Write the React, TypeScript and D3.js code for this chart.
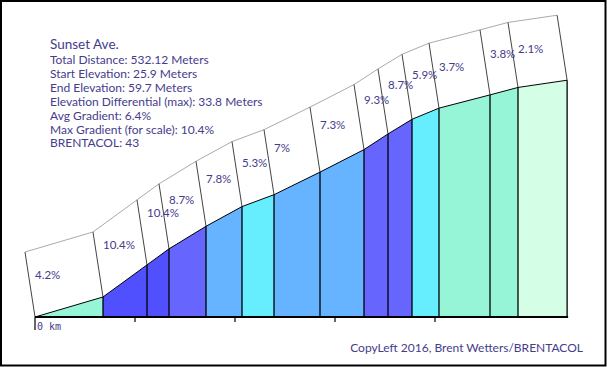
import * as d3 from "d3";

// segment lengths (meters) and gradients (%)
const segLengths = [68, 44, 22, 37, 36, 32, 46, 44, 24, 24, 27, 51, 28, 49.12];
const grades = [4.2, 10.4, 10.4, 8.7, 7.8, 5.3, 7, 7.3, 9.3, 8.7, 5.9, 3.7, 3.8, 2.1];
const distTicks = [0, 100, 200, 300, 400];

const infoLines = [
  "Total Distance: 532.12 Meters",
  "Start Elevation: 25.9 Meters",
  "End Elevation: 59.7 Meters",
  "Elevation Differential (max): 33.8 Meters",
  "Avg Gradient: 6.4%",
  "Max Gradient (for scale): 10.4%",
  "BRENTACOL: 43",
];
const title = "Sunset Ave.";
const credit = "CopyLeft 2016, Brent Wetters/BRENTACOL";

const W = 607;
const H = 367;
const base = 317;
const textColor = "#453c8c";
const font = "Lato, 'Open Sans', sans-serif";

const App = () => {
  // cumulative distance / elevation gain at every segment boundary
  const dist = [0];
  const elev = [0];
  segLengths.forEach((l, i) => {
    dist.push(dist[i] + l);
    elev.push(elev[i] + (l * grades[i]) / 100);
  });

  const x = d3.scaleLinear().domain([0, 532.12]).range([35, 567.12]);
  const y = d3.scaleLinear().domain([0, 33.8]).range([base, 80]);
  const color = d3
    .scaleThreshold<number, string>()
    .domain([3, 5, 6, 8, 10])
    .range(["#d4ffe6", "#96f5d7", "#66eeff", "#66b3ff", "#6666ff", "#5050ff"]);

  const pts: [number, number][] = dist.map((d, i) => [x(d), y(elev[i])]);
  // tilted "cards" above the profile
  const off = [-10, -65];
  const tops: [number, number][] = pts.map((p) => [p[0] + off[0], p[1] + off[1]]);
  const line = d3.line();

  return (
    <div>
      <style>{"body{margin:0}"}</style>
      <svg width={W} height={H} style={{ display: "block" }}>
        <rect x={1} y={1} width={W - 2.5} height={H - 2.5} fill="white" stroke="black" strokeWidth={2} />

        <path d={line(tops) || ""} fill="none" stroke="#aaa" strokeWidth={1} />
        {pts.map((p, i) => (
          <line key={"c" + i} x1={p[0]} y1={p[1]} x2={tops[i][0]} y2={tops[i][1]} stroke="#444" strokeWidth={1} />
        ))}

        {grades.map((g, i) => (
          <path
            key={"s" + i}
            d={line([[pts[i][0], base], pts[i], pts[i + 1], [pts[i + 1][0], base]]) + "Z"}
            fill={color(g)}
            stroke="none"
          />
        ))}
        {pts.map((p, i) => (
          <line key={"v" + i} x1={p[0]} y1={base} x2={p[0]} y2={p[1]} stroke="black" strokeWidth={i === 0 ? 0 : 1.3} />
        ))}
        <path d={line(pts) || ""} fill="none" stroke="black" strokeWidth={1} />

        {grades.map((g, i) => (
          <text
            key={"l" + i}
            x={pts[i][0]}
            y={pts[i][1] - 31 - 1.6 * g}
            fill={textColor}
            fontFamily={font}
            fontSize={11.5}
          >
            {g + "%"}
          </text>
        ))}

        <line x1={x(0)} x2={x(532.12) + 1} y1={base} y2={base} stroke="black" strokeWidth={2} />
        {distTicks.map((t, i) => (
          <line key={"t" + i} x1={x(t)} x2={x(t)} y1={base} y2={i === 0 ? base + 13 : base + 5} stroke="black" strokeWidth={1.2} />
        ))}
        <text x={x(0) + 2} y={330} fill={textColor} fontFamily="'DejaVu Sans Mono', monospace" fontSize={10}>
          0 km
        </text>

        <text x={50} y={49} fill={textColor} fontFamily={font} fontSize={13.5}>
          {title}
        </text>
        {infoLines.map((s, i) => (
          <text key={"i" + i} x={50} y={64 + i * 13.9} fill={textColor} fontFamily={font} fontSize={12}>
            {s}
          </text>
        ))}

        <text x={583} y={352} textAnchor="end" fill={textColor} fontFamily={font} fontSize={12}>
          {credit}
        </text>
      </svg>
    </div>
  );
};

export default App;
